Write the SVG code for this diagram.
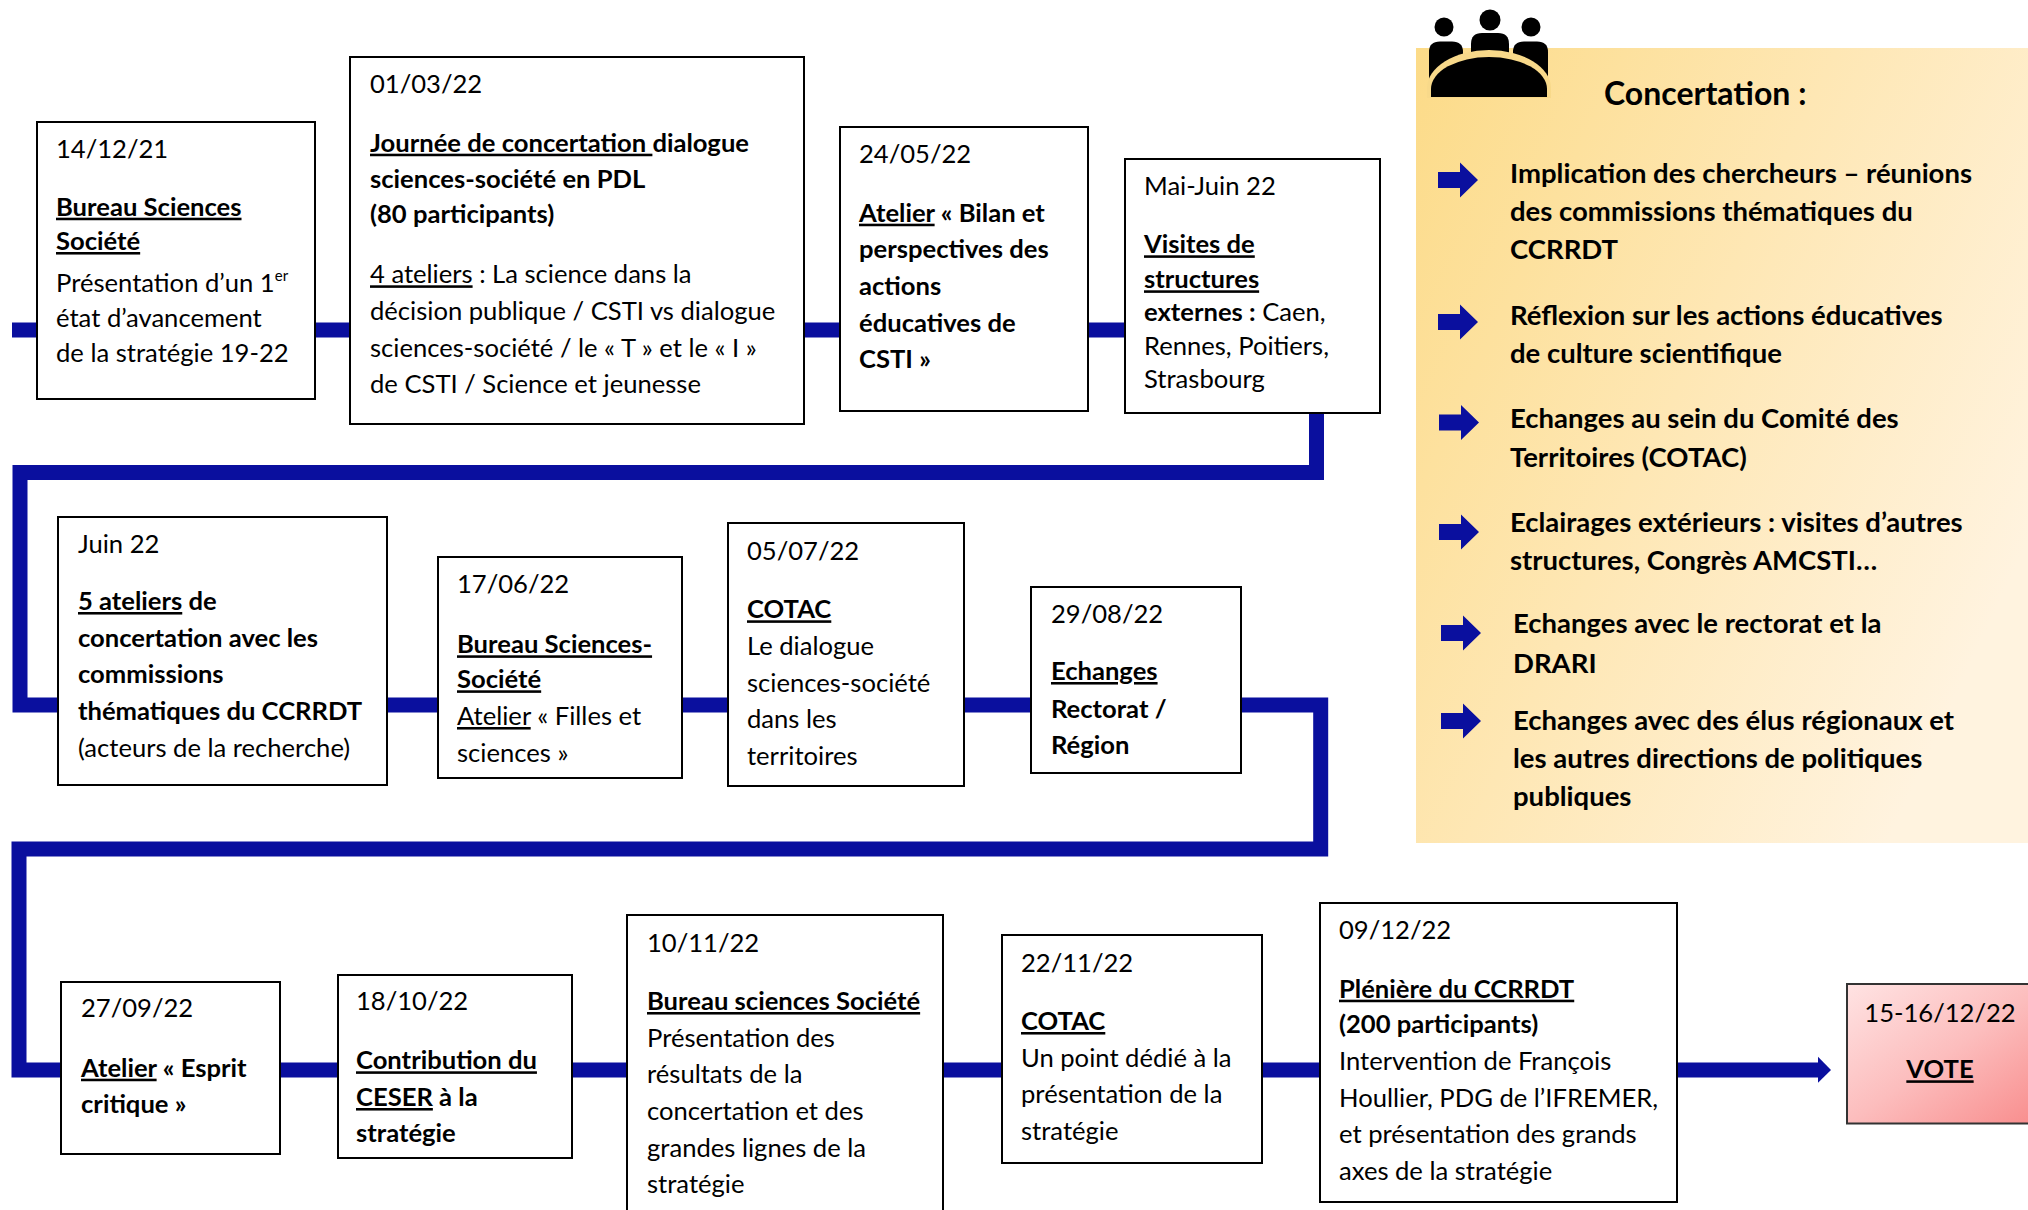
<svg xmlns="http://www.w3.org/2000/svg" width="2028" height="1210" viewBox="0 0 2028 1210">
<defs>
<style>
.box{fill:#fff;stroke:#000;stroke-width:2}
.t{font-family:Lato,'Liberation Sans',sans-serif;font-size:25.6px;fill:#000}
.bd{font-weight:bold}
.u{text-decoration:underline}
.pt{font-family:Lato,'Liberation Sans',sans-serif;font-size:27.5px;font-weight:bold;fill:#000}
.conn{fill:none;stroke:#0A0F9E;stroke-width:15;stroke-linejoin:miter;stroke-linecap:butt}
.arr{fill:#0A0F9E}
</style>
<linearGradient id="gPanel" x1="0" y1="0" x2="1" y2="0.6">
<stop offset="0" stop-color="#FCDB88"/>
<stop offset="0.5" stop-color="#FEE7B4"/>
<stop offset="1" stop-color="#FFF3DF"/>
</linearGradient>
<linearGradient id="gVote" x1="0" y1="0" x2="1" y2="1">
<stop offset="0" stop-color="#FFE3E3"/>
<stop offset="0.5" stop-color="#FCBDBD"/>
<stop offset="1" stop-color="#F88A8A"/>
</linearGradient>
<polygon id="pArrow" points="0,-8 22,-8 22,-17.5 40,0 22,17.5 22,8 0,8"/>
</defs>

<g id="panel">
<rect x="1416" y="48" width="620" height="795" fill="url(#gPanel)"/>
<g id="icon" fill="#000">
<circle cx="1444" cy="27" r="9.5"/>
<circle cx="1490" cy="20" r="10.5"/>
<circle cx="1531" cy="27" r="9.5"/>
<path d="M1429,82 V52 Q1429,41.5 1440,41.5 H1452 Q1463,41.5 1463,52 V82 Z"/>
<path d="M1471,70 V44 Q1471,33 1482,33 H1498 Q1509,33 1509,44 V70 Z"/>
<path d="M1513,82 V52 Q1513,41.5 1524,41.5 H1537 Q1548,41.5 1548,52 V82 Z"/>
<path d="M1427,98 V88 A62,38 0 0 1 1551,88 V98 Z" fill="#F8D98A"/>
<path d="M1431,97 V89 A58,32 0 0 1 1547,89 V97 Z"/>
</g>
<text class="pt" x="1604" y="105" style="font-size:32px">Concertation :</text>
<g class="arr">
<use href="#pArrow" x="1438" y="180"/>
<use href="#pArrow" x="1438" y="322"/>
<use href="#pArrow" x="1439" y="422.5"/>
<use href="#pArrow" x="1439" y="532"/>
<use href="#pArrow" x="1441" y="633"/>
<use href="#pArrow" x="1441" y="721"/>
</g>
<text class="pt" x="1510" y="183.3">Implication des chercheurs – réunions</text>
<text class="pt" x="1510" y="221.3">des commissions thématiques du</text>
<text class="pt" x="1510" y="259.3">CCRRDT</text>
<text class="pt" x="1510" y="325">Réflexion sur les actions éducatives</text>
<text class="pt" x="1510" y="363.3">de culture scientifique</text>
<text class="pt" x="1510" y="428.3">Echanges au sein du Comité des</text>
<text class="pt" x="1510" y="467">Territoires (COTAC)</text>
<text class="pt" x="1510" y="531.7">Eclairages extérieurs : visites d’autres</text>
<text class="pt" x="1510" y="570">structures, Congrès AMCSTI…</text>
<text class="pt" x="1513" y="633.3">Echanges avec le rectorat et la</text>
<text class="pt" x="1513" y="672.7">DRARI</text>
<text class="pt" x="1513" y="730">Echanges avec des élus régionaux et</text>
<text class="pt" x="1513" y="768.3">les autres directions de politiques</text>
<text class="pt" x="1513" y="806">publiques</text>
</g>

<g id="connectors">
<path class="conn" d="M12,330 H1316.5 V472.5 H20 V705 H1320.7 V849 H19 V1070 H1820"/>
<polygon class="arr" points="1818,1056.7 1831,1070 1818,1082.7"/>
</g>

<g id="n1">
<rect class="box" x="37" y="122" width="278" height="277"/>
<text class="t" x="56" y="158.3">14/12/21</text>
<text class="t bd u" x="56" y="215.7">Bureau Sciences</text>
<text class="t bd u" x="56" y="250">Société</text>
<text class="t" x="56" y="292.3">Présentation d’un 1<tspan font-size="15" dy="-11">er</tspan></text>
<text class="t" x="56" y="327.3">état d’avancement</text>
<text class="t" x="56" y="361.7">de la stratégie 19-22</text>
</g>

<g id="n2">
<rect class="box" x="350" y="57" width="454" height="367"/>
<text class="t" x="370" y="93.3">01/03/22</text>
<text class="t bd" x="370" y="151.7"><tspan class="u">Journée de concertation </tspan>dialogue</text>
<text class="t bd" x="370" y="188.3">sciences-société en PDL</text>
<text class="t bd" x="370" y="223.3">(80 participants)</text>
<text class="t" x="370" y="283.3"><tspan class="u">4 ateliers</tspan> : La science dans la</text>
<text class="t" x="370" y="320">décision publique / CSTI vs dialogue</text>
<text class="t" x="370" y="356.7">sciences-société / le « T » et le « I »</text>
<text class="t" x="370" y="393.3">de CSTI / Science et jeunesse</text>
</g>

<g id="n3">
<rect class="box" x="840" y="127" width="248" height="284"/>
<text class="t" x="859" y="163.3">24/05/22</text>
<text class="t bd" x="859" y="221.7"><tspan class="u">Atelier</tspan> « Bilan et</text>
<text class="t bd" x="859" y="258.3">perspectives des</text>
<text class="t bd" x="859" y="295">actions</text>
<text class="t bd" x="859" y="331.7">éducatives de</text>
<text class="t bd" x="859" y="368.3">CSTI »</text>
</g>

<g id="n4">
<rect class="box" x="1125" y="159" width="255" height="254"/>
<text class="t" x="1144" y="195">Mai-Juin 22</text>
<text class="t bd u" x="1144" y="253.3">Visites de</text>
<text class="t bd u" x="1144" y="288.3">structures</text>
<text class="t" x="1144" y="321"><tspan class="bd">externes :</tspan> Caen,</text>
<text class="t" x="1144" y="355">Rennes, Poitiers,</text>
<text class="t" x="1144" y="388.3">Strasbourg</text>
</g>

<g id="n5">
<rect class="box" x="58" y="517" width="329" height="268"/>
<text class="t" x="78" y="553.3">Juin 22</text>
<text class="t bd" x="78" y="610"><tspan class="u">5 ateliers</tspan> de</text>
<text class="t bd" x="78" y="646.7">concertation avec les</text>
<text class="t bd" x="78" y="683.3">commissions</text>
<text class="t bd" x="78" y="720">thématiques du CCRRDT</text>
<text class="t" x="78" y="756.7">(acteurs de la recherche)</text>
</g>

<g id="n6">
<rect class="box" x="438" y="557" width="244" height="221"/>
<text class="t" x="457" y="593.3">17/06/22</text>
<text class="t bd u" x="457" y="653.3">Bureau Sciences-</text>
<text class="t bd u" x="457" y="688.3">Société</text>
<text class="t" x="457" y="725"><tspan class="u">Atelier</tspan> « Filles et</text>
<text class="t" x="457" y="761.7">sciences »</text>
</g>

<g id="n7">
<rect class="box" x="728" y="523" width="236" height="263"/>
<text class="t" x="747" y="560">05/07/22</text>
<text class="t bd u" x="747" y="618.3">COTAC</text>
<text class="t" x="747" y="655">Le dialogue</text>
<text class="t" x="747" y="691.7">sciences-société</text>
<text class="t" x="747" y="728.3">dans les</text>
<text class="t" x="747" y="765">territoires</text>
</g>

<g id="n8">
<rect class="box" x="1031" y="587" width="210" height="186"/>
<text class="t" x="1051" y="623.3">29/08/22</text>
<text class="t bd u" x="1051" y="680">Echanges</text>
<text class="t bd" x="1051" y="718.3">Rectorat /</text>
<text class="t bd" x="1051" y="754">Région</text>
</g>

<g id="n9">
<rect class="box" x="61" y="982" width="219" height="172"/>
<text class="t" x="81" y="1016.7">27/09/22</text>
<text class="t bd" x="81" y="1076.7"><tspan class="u">Atelier</tspan> « Esprit</text>
<text class="t bd" x="81" y="1113.3">critique »</text>
</g>

<g id="n10">
<rect class="box" x="338" y="975" width="234" height="183"/>
<text class="t" x="356" y="1010">18/10/22</text>
<text class="t bd u" x="356" y="1069.3">Contribution du</text>
<text class="t bd" x="356" y="1106"><tspan class="u">CESER</tspan> à la</text>
<text class="t bd" x="356" y="1141.7">stratégie</text>
</g>

<g id="n11">
<rect class="box" x="627" y="915" width="316" height="305"/>
<text class="t" x="647" y="951.7">10/11/22</text>
<text class="t bd u" x="647" y="1010">Bureau sciences Société</text>
<text class="t" x="647" y="1046.7">Présentation des</text>
<text class="t" x="647" y="1083.3">résultats de la</text>
<text class="t" x="647" y="1120">concertation et des</text>
<text class="t" x="647" y="1156.7">grandes lignes de la</text>
<text class="t" x="647" y="1193.3">stratégie</text>
</g>

<g id="n12">
<rect class="box" x="1002" y="935" width="260" height="228"/>
<text class="t" x="1021" y="971.7">22/11/22</text>
<text class="t bd u" x="1021" y="1030">COTAC</text>
<text class="t" x="1021" y="1066.7">Un point dédié à la</text>
<text class="t" x="1021" y="1103.3">présentation de la</text>
<text class="t" x="1021" y="1140">stratégie</text>
</g>

<g id="n13">
<rect class="box" x="1320" y="903" width="357" height="299"/>
<text class="t" x="1339" y="939.3">09/12/22</text>
<text class="t bd u" x="1339" y="997.7">Plénière du CCRRDT</text>
<text class="t bd" x="1339" y="1033.3">(200 participants)</text>
<text class="t" x="1339" y="1070">Intervention de François</text>
<text class="t" x="1339" y="1106.7">Houllier, PDG de l’IFREMER,</text>
<text class="t" x="1339" y="1143.3">et présentation des grands</text>
<text class="t" x="1339" y="1180">axes de la stratégie</text>
</g>

<g id="n14">
<rect x="1847" y="984" width="200" height="139.5" fill="url(#gVote)" stroke="#333" stroke-width="2"/>
<text class="t" x="1940" y="1021.7" text-anchor="middle">15-16/12/22</text>
<text class="t bd u" x="1940" y="1078.3" text-anchor="middle">VOTE</text>
</g>
</svg>
